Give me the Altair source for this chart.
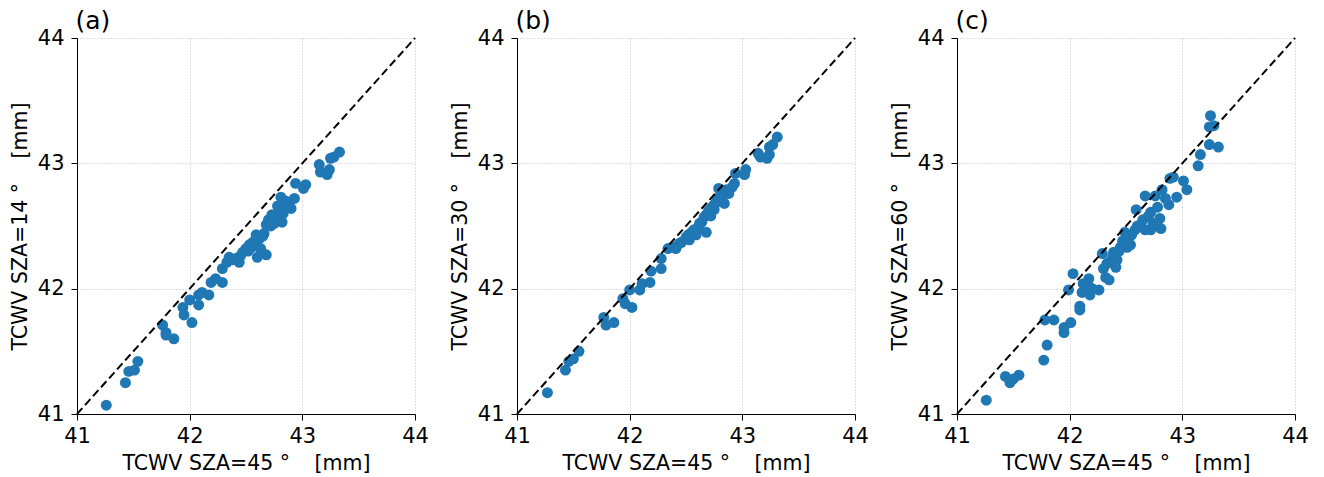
import altair as alt
import pandas as pd

# ---- data ----
x_a = [41.26, 41.43, 41.46, 41.51, 41.54, 41.76, 41.79, 41.79, 41.86, 41.94, 41.95, 42.02, 42.00,
       42.08, 42.08, 42.11, 42.17, 42.19, 42.23, 42.29, 42.29, 42.33, 42.35, 42.41, 42.44, 42.47,
       42.50, 42.53, 42.56, 42.59, 42.60, 42.63, 42.66, 42.68, 42.68, 42.70, 42.76, 42.73, 42.79,
       42.82, 42.81, 42.84, 42.88, 42.90, 42.93, 42.94, 43.03, 43.01, 43.15, 43.16, 43.22, 43.24,
       43.25, 43.28, 43.33,
       42.38, 42.45, 42.52, 42.55, 42.58, 42.62, 42.65, 42.72, 42.75, 42.78, 42.80, 42.83, 42.86,
       42.78, 42.74, 42.85]
y_a = [41.07, 41.25, 41.34, 41.35, 41.42, 41.71, 41.65, 41.63, 41.60, 41.85, 41.79, 41.73, 41.91,
       41.95, 41.87, 41.97, 41.95, 42.05, 42.08, 42.05, 42.16, 42.21, 42.25, 42.24, 42.21, 42.29,
       42.32, 42.35, 42.37, 42.43, 42.25, 42.32, 42.44, 42.27, 42.51, 42.55, 42.56, 42.59, 42.61,
       42.53, 42.73, 42.65, 42.69, 42.64, 42.72, 42.84, 42.83, 42.80, 42.99, 42.93, 42.91, 42.95,
       43.04, 43.05, 43.09,
       42.23, 42.26, 42.30, 42.33, 42.36, 42.40, 42.42, 42.50, 42.52, 42.58, 42.63, 42.60, 42.66,
       42.66, 42.58, 42.70]

x_b = [41.27, 41.43, 41.46, 41.50, 41.55, 41.77, 41.79, 41.86, 41.94, 41.96, 42.02, 42.00, 42.09,
       42.11, 42.18, 42.19, 42.28, 42.28, 42.34, 42.41, 42.46, 42.50, 42.53, 42.55, 42.59, 42.61,
       42.64, 42.68, 42.68, 42.72, 42.75, 42.76, 42.79, 42.81, 42.84, 42.85, 42.88, 42.91, 42.93,
       42.94, 43.03, 43.02, 43.14, 43.16, 43.22, 43.24, 43.24, 43.27, 43.31,
       42.38, 42.44, 42.52, 42.57, 42.62, 42.66, 42.70, 42.74, 42.78, 42.82, 42.86, 42.72]
y_b = [41.17, 41.35, 41.42, 41.44, 41.50, 41.77, 41.71, 41.73, 41.92, 41.88, 41.85, 41.99, 41.99,
       42.04, 42.05, 42.14, 42.16, 42.24, 42.32, 42.32, 42.37, 42.41, 42.39, 42.45, 42.43, 42.48,
       42.53, 42.45, 42.59, 42.64, 42.63, 42.68, 42.80, 42.75, 42.68, 42.77, 42.76, 42.81, 42.84,
       42.92, 42.95, 42.91, 43.08, 43.05, 43.04, 43.07, 43.13, 43.15, 43.21,
       42.33, 42.36, 42.43, 42.47, 42.52, 42.57, 42.62, 42.66, 42.72, 42.72, 42.79, 42.58]

x_c = [41.26, 41.43, 41.47, 41.50, 41.55, 41.77, 41.80, 41.78, 41.86, 41.95, 41.95, 42.01, 41.99,
       42.03, 42.09, 42.09, 42.11, 42.12, 42.17, 42.18, 42.18, 42.26, 42.29, 42.30, 42.32, 42.35,
       42.35, 42.41, 42.39, 42.42, 42.45, 42.49, 42.51, 42.54, 42.55, 42.58, 42.59, 42.63, 42.67,
       42.67, 42.72, 42.72, 42.74, 42.76, 42.80, 42.81, 42.82, 42.88, 42.89, 42.92, 42.95, 43.01,
       43.04, 43.14, 43.16, 43.24, 43.24, 43.28, 43.25, 43.32,
       42.33, 42.38, 42.44, 42.47, 42.52, 42.60, 42.65, 42.70, 42.78, 42.85, 42.20, 42.14]
y_c = [41.11, 41.30, 41.25, 41.28, 41.31, 41.43, 41.55, 41.75, 41.75, 41.69, 41.65, 41.73, 41.99,
       42.12, 41.86, 41.83, 41.97, 42.04, 42.08, 41.95, 42.01, 41.99, 42.28, 42.16, 42.09, 42.07,
       42.21, 42.17, 42.29, 42.23, 42.33, 42.45, 42.33, 42.35, 42.43, 42.47, 42.63, 42.51, 42.74,
       42.47, 42.47, 42.61, 42.52, 42.74, 42.56, 42.48, 42.79, 42.67, 42.88, 42.89, 42.73, 42.86,
       42.79, 42.98, 43.07, 43.15, 43.29, 43.30, 43.38, 43.13,
       42.20, 42.25, 42.30, 42.38, 42.40, 42.50, 42.55, 42.58, 42.65, 42.72, 42.00, 41.99]

diag_vals = [41, 44]
tick_vals = [41, 42, 43, 44]
panel_labels = ["(a)", "(b)", "(c)"]
y_titles = ["TCWV SZA=14\u00a0°\u2003\u2009[mm]", "TCWV SZA=30\u00a0°\u2003\u2009[mm]",
            "TCWV SZA=60\u00a0°\u2003\u2009[mm]"]
x_title = "TCWV SZA=45\u00a0°\u2003\u2009[mm]"

FONT = "DejaVu Sans"
W, H = 338, 376


def axis(title, pad):
    return alt.Axis(values=tick_vals, format="d", title=title, grid=True,
                    gridColor="#b0b0b0", gridDash=[1, 2], gridWidth=0.8,
                    domainColor="black", domainWidth=1.0, tickColor="black",
                    tickSize=6, tickWidth=1.0, labelFont=FONT, labelFontSize=21,
                    labelColor="black", labelPadding=pad, labelFlush=False,
                    labelOverlap=False, titleFont=FONT,
                    titleFontSize=20.5, titleFontWeight="normal", titleColor="black",
                    titlePadding=7)


def panel(xs, ys, label, ytitle):
    sx = alt.Scale(domain=[41, 44], nice=False, zero=False)
    sy = alt.Scale(domain=[41, 44], nice=False, zero=False)
    df = pd.DataFrame({"x": xs, "y": ys})
    pts = alt.Chart(df).mark_circle(size=120, color="#1f77b4", opacity=1).encode(
        x=alt.X("x:Q", scale=sx, axis=axis(x_title, 5)),
        y=alt.Y("y:Q", scale=sy, axis=axis(ytitle, 7)),
    )
    ddf = pd.DataFrame({"x": diag_vals, "y": diag_vals})
    diag = alt.Chart(ddf).mark_line(color="black", strokeDash=[8, 4], strokeWidth=2).encode(
        x=alt.X("x:Q", scale=sx), y=alt.Y("y:Q", scale=sy)
    )
    lab = alt.Chart(pd.DataFrame({"t": [label]})).mark_text(
        align="left", baseline="alphabetic", font=FONT, fontSize=25, color="black"
    ).encode(x=alt.value(-1.5), y=alt.value(-9.5), text="t:N")
    return alt.layer(pts, diag, lab).properties(width=W, height=H)


chart = alt.hconcat(
    panel(x_a, y_a, panel_labels[0], y_titles[0]),
    panel(x_b, y_b, panel_labels[1], y_titles[1]),
    panel(x_c, y_c, panel_labels[2], y_titles[2]),
    spacing=102, bounds="flush",
).properties(
    padding={"left": 10, "top": 8, "right": 5, "bottom": 5},
    background="white",
).configure_view(stroke=None)

chart.save("out.html", embed_options={"renderer": "svg", "actions": False})
